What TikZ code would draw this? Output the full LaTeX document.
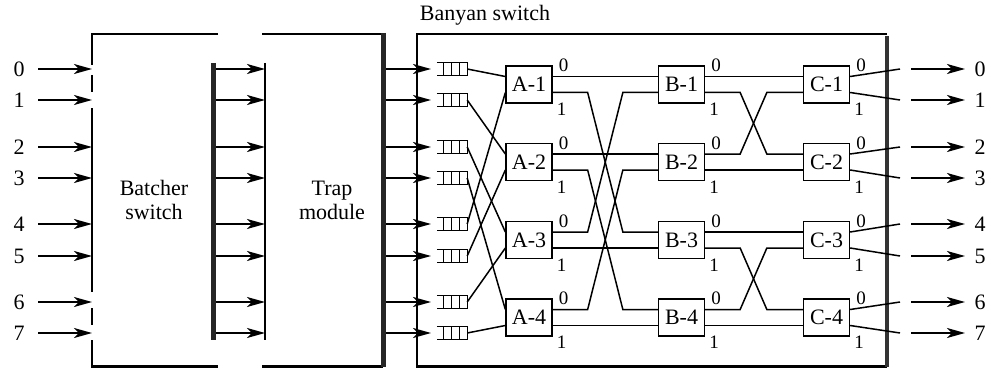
\documentclass[tikz,border=0pt]{standalone}
\usepackage{fontspec}
\setmainfont{Liberation Serif}
\usetikzlibrary{arrows.meta,calc}
\begin{document}
\begin{tikzpicture}[x=1pt,y=-1pt,
  every node/.style={font=\fontsize{22}{24}\selectfont, inner sep=0pt},
  wire/.style={line width=1.5pt},
  edgeline/.style={line width=1.8pt},
  thickbar/.style={line width=5pt, black!85},
  arr/.style={line width=1.6pt,-{Stealth[length=18pt,width=10pt,inset=5pt]}},
  sw/.style={draw, line width=1.3pt, minimum width=46pt, minimum height=37pt},
  port/.style={font=\fontsize{19}{21}\selectfont},
  qbox/.style={minimum width=30pt, minimum height=13pt}]
\useasboundingbox (0,0) rectangle (991,369);

% ---------- Batcher switch ----------
\draw[edgeline] (218,34) -- (92,34) -- (92,65);
\draw[edgeline] (92,75) -- (92,92);
\draw[edgeline] (92,108) -- (92,292);
\draw[edgeline] (92,308) -- (92,325);
\draw[edgeline] (92,340) -- (92,366);
\draw[line width=3pt] (91,366) -- (218,366);
\node[align=center] (batcher) at (154,200) {Batcher\\switch};
\draw[thickbar] (213,63) -- (213,340);

% ---------- Trap module ----------
\draw[edgeline] (262,34) -- (383,34);
\draw[line width=3pt] (262,366) -- (383,366);
\draw[line width=1.3pt] (265,63) -- (265,340);
\draw[thickbar] (383,33) -- (383,367);
\node[align=center] (trap) at (332,200) {Trap\\module};

% ---------- Banyan switch ----------
\node (banyan) at (485,15) {Banyan switch};
\draw[edgeline] (887,34) -- (417,34) -- (417,366);
\draw[line width=3pt] (416,366) -- (887,366);
\draw[line width=4.5pt, black!80] (887,36) -- (887,367);

% rows, input arrows, trap arrows, banyan arrows, queues
\foreach \y [count=\i from 0] in {69,100,147,178,224,256,302,333} {
  \node (in\i) at (19,\y) {\i};
  \coordinate (is\i) at (38,\y);
  \coordinate (bl\i) at (92,\y);
  \draw[arr] (is\i) -- (bl\i);
  \coordinate (ts\i) at (216,\y);
  \coordinate (tl\i) at (265,\y);
  \draw[arr] (ts\i) -- (tl\i);
  \coordinate (bs\i) at (386,\y);
  \coordinate (bq\i) at (431,\y);
  \draw[arr] (bs\i) -- (bq\i);
  \node[qbox] (q\i) at (452,\y) {};
  \draw[line width=1.2pt] (q\i.north west) -- (q\i.north east) -- (q\i.south east) -- (q\i.south west);
  \foreach \dx in {7,15,23}
    \draw[line width=1.1pt] ($(q\i.north west)+(\dx,0)$) -- ($(q\i.south west)+(\dx,0)$);
  \coordinate (co\i) at (900,\y);
  \coordinate (os\i) at (911,\y);
  \coordinate (oe\i) at (965,\y);
  \draw[arr] (os\i) -- (oe\i);
  \node (out\i) at (980,\y) {\i};
}

% switches
\foreach \s/\x in {A/529,B/681.5,C/826.5} {
  \foreach \y [count=\k] in {84.5,162,240,317.5} {
    \node[sw] (\s\k) at (\x,\y) {\s-\k};
    \coordinate (\s\k i0) at ($(\s\k.west)+(0,-8)$);
    \coordinate (\s\k i1) at ($(\s\k.west)+(0,8)$);
    \coordinate (\s\k o0) at ($(\s\k.east)+(0,-8)$);
    \coordinate (\s\k o1) at ($(\s\k.east)+(0,8)$);
    \node[port] (\s\k l0) at ($(\s\k.east)+(11,-19)$) {0};
    \node[port] (\s\k l1) at ($(\s\k.east)+(9,25)$) {1};
  }
}

% queues -> A
\foreach \q/\t in {0/A1i0,4/A1i1,1/A2i0,5/A2i1,2/A3i0,6/A3i1,3/A4i0,7/A4i1}
  \draw[wire] (q\q.east) -- (\t);

% A -> B
\draw[wire] (A1o0) -- (B1i0);
\draw[wire] (A2o0) -- (B2i0);
\draw[wire] (A3o1) -- (B3i1);
\draw[wire] (A4o1) -- (B4i1);
\foreach \a/\b in {A1o1/B3i0,A2o1/B4i0,A3o0/B1i1,A4o0/B2i1}
  \draw[wire] (\a) -- ++(35,0) -- ($(\b)+(-35,0)$) -- (\b);

% B -> C
\draw[wire] (B1o0) -- (C1i0);
\draw[wire] (B2o1) -- (C2i1);
\draw[wire] (B3o0) -- (C3i0);
\draw[wire] (B4o1) -- (C4i1);
\foreach \a/\b in {B1o1/C2i0,B2o0/C1i1,B3o1/C4i0,B4o0/C3i1}
  \draw[wire] (\a) -- ++(35,0) -- ($(\b)+(-36,0)$) -- (\b);

% C -> outputs
\foreach \c/\o in {C1o0/co0,C1o1/co1,C2o0/co2,C2o1/co3,C3o0/co4,C3o1/co5,C4o0/co6,C4o1/co7}
  \draw[wire] (\c) -- (\o);
\end{tikzpicture}
\end{document}
